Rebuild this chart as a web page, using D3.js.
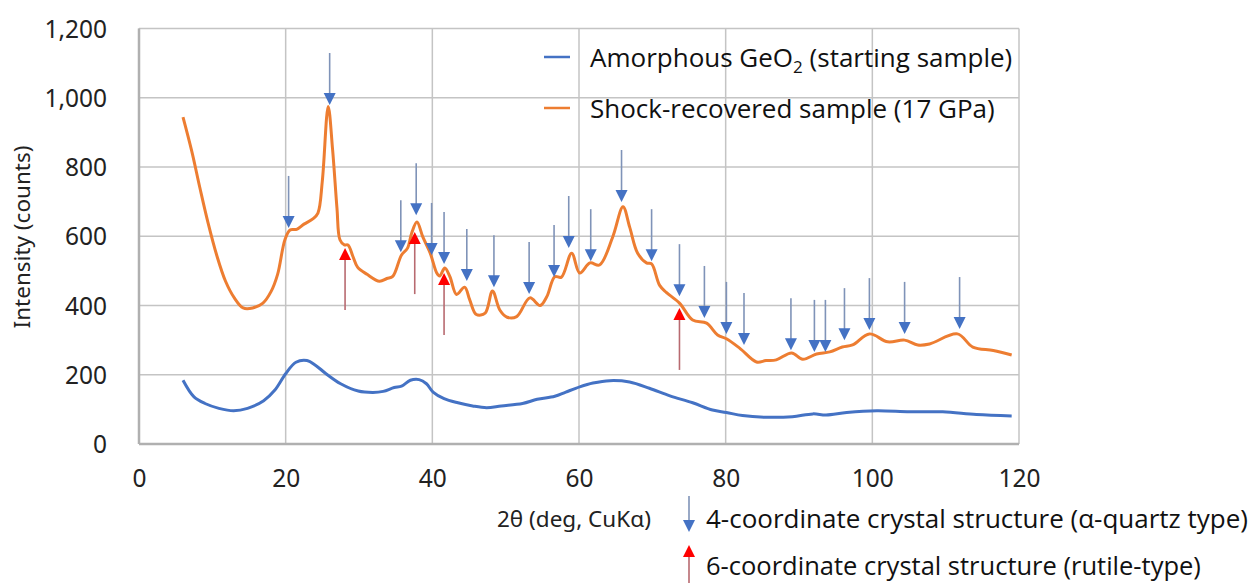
<!DOCTYPE html>
<html><head><meta charset="utf-8">
<script src="https://cdn.jsdelivr.net/npm/d3@7"></script>
<style>
html,body{margin:0;padding:0;background:#fff;}
svg{display:block;}
</style></head>
<body>
<svg id="chart" width="1258" height="583"></svg>
<script>
// ---------- DATA ----------
const xTicks = [0, 20, 40, 60, 80, 100, 120];
const yTicks = [0, 200, 400, 600, 800, 1000, 1200];

const amorphousX = [6.0,7.5,9.0,10.9,12.9,14.8,17.0,18.5,20.0,21.4,22.9,24.1,25.5,27.5,29.9,31.9,33.3,34.8,35.8,37.0,38.2,39.2,40.1,41.6,43.5,45.5,47.4,49.4,52.3,54.3,56.7,58.2,60.1,61.9,64.2,66.9,69.6,72.4,75.5,78.2,80.1,82.3,86.0,89.1,91.9,93.7,96.5,100.6,105.1,109.6,114.2,119.0];
const amorphousY = [184,136,117,103,96,103,125,155,203,236,241,227,203,174,153,149,152,163,167,184,186,174,150,131,119,110,105,110,117,129,138,150,165,176,183,179,161,139,119,98,91,82,77,79,87,84,91,96,93,93,85,81];

const shockX = [6.0,7.2,8.3,9.4,10.6,11.8,13.0,14.2,15.5,16.9,18.0,18.9,19.9,20.6,21.5,22.5,23.7,24.4,25.0,25.8,26.4,27.0,27.4,28.0,28.5,29.2,29.8,31.1,32.8,33.8,34.6,35.8,36.6,37.2,37.9,38.7,39.7,40.6,41.0,41.7,42.4,43.3,44.4,45.1,46.0,47.2,48.2,49.2,50.2,51.5,53.3,54.7,55.6,56.7,57.6,59.0,60.1,61.5,62.8,64.6,66.0,66.9,68.0,69.2,69.9,71.0,71.9,73.7,75.5,77.4,78.9,80.1,81.9,84.2,85.5,86.9,89.0,90.5,92.4,94.2,95.9,97.3,99.6,102.1,104.4,106.2,107.8,111.6,113.7,116.5,119.0];
const shockY = [944,845,740,640,545,470,422,393,393,407,440,490,590,618,620,635,650,667,760,975,850,680,590,575,575,540,511,490,470,478,484,546,565,610,641,598,552,494,485,508,483,432,453,416,374,378,442,387,366,368,422,400,425,483,482,551,494,523,517,598,685,627,551,523,520,458,438,407,358,349,315,304,277,237,241,243,263,245,260,266,280,286,318,295,300,286,289,318,280,270,257];

// 4-coordinate (alpha-quartz type) peak markers: position and arrow-tip intensity
const quartzX = [20.4,26.0,35.7,37.8,39.9,41.6,44.7,48.4,53.2,56.6,58.6,61.6,65.8,69.9,73.7,77.1,80.1,82.5,88.9,92.1,93.6,96.2,99.6,104.4,111.9];
const quartzTip = [624,979,554,661,546,520,471,453,433,482,566,528,699,528,427,364,318,286,271,266,266,300,329,318,332];
// 6-coordinate (rutile type) peak markers: position and arrow-head intensity
const rutileX = [28.1,37.6,41.6,73.7];
const rutileTip = [566,612,494,393];

const seriesNames = ["Amorphous GeO", "Shock-recovered sample (17 GPa)"];
const xTitle = "2θ (deg, CuKα)";
const yTitle = "Intensity (counts)";
const markerNames = ["4-coordinate crystal structure (α-quartz type)", "6-coordinate crystal structure (rutile-type)"];

// ---------- DRAW ----------
const svg = d3.select("#chart");
const M = {left:139, right:1019, top:28.5, bottom:444};
const x = d3.scaleLinear().domain([0,120]).range([M.left, M.right]);
const y = d3.scaleLinear().domain([0,1200]).range([M.bottom, M.top]);

const BLUE = "#4472C4", ORANGE = "#ED7D31", GRID = "#c4c4c4";
const tickFont = "'Noto Sans', sans-serif";
const textFont = "'Open Sans', 'Noto Sans', sans-serif";

// gridlines
const g = svg.append("g");
g.selectAll(".hg").data(yTicks).join("line")
  .attr("x1", M.left).attr("x2", M.right)
  .attr("y1", d=>y(d)).attr("y2", d=>y(d))
  .attr("stroke", GRID).attr("stroke-width", 1.5);
g.selectAll(".vg").data(xTicks).join("line")
  .attr("y1", M.top).attr("y2", M.bottom)
  .attr("x1", d=>x(d)).attr("x2", d=>x(d))
  .attr("stroke", GRID).attr("stroke-width", 1.5);
// axis lines
g.append("line").attr("x1",M.left).attr("x2",M.right).attr("y1",M.bottom).attr("y2",M.bottom).attr("stroke","#b0b0b0").attr("stroke-width",2.5);
g.append("line").attr("x1",M.left).attr("x2",M.left).attr("y1",M.top).attr("y2",M.bottom).attr("stroke","#b0b0b0").attr("stroke-width",2.5);

// axes labels via d3 axes
const fmt = d3.format(",");
const yAxis = svg.append("g").attr("transform",`translate(${M.left-32},0)`)
  .call(d3.axisLeft(y).tickValues(yTicks).tickFormat(fmt).tickSize(0).tickPadding(0));
yAxis.select(".domain").remove();
yAxis.selectAll("text").attr("font-family",tickFont).attr("font-size",24.5).attr("fill","#222").attr("dy","0.35em");

const xAxis = svg.append("g").attr("transform",`translate(0,${M.bottom})`)
  .call(d3.axisBottom(x).tickValues(xTicks).tickFormat(d3.format("d")).tickSize(0).tickPadding(0));
xAxis.select(".domain").remove();
xAxis.selectAll("text").attr("font-family",tickFont).attr("font-size",24.5).attr("fill","#222").attr("y",43).attr("dy",0);

// lines
const line = d3.line().x(d=>x(d[0])).y(d=>y(d[1])).curve(d3.curveCatmullRom.alpha(0.5));
const amorph = amorphousX.map((v,i)=>[v, amorphousY[i]]);
const shock = shockX.map((v,i)=>[v, shockY[i]]);
svg.append("path").attr("d", line(amorph)).attr("fill","none").attr("stroke",BLUE).attr("stroke-width",3).attr("stroke-linejoin","round");
svg.append("path").attr("d", line(shock)).attr("fill","none").attr("stroke",ORANGE).attr("stroke-width",3).attr("stroke-linejoin","round");

// arrows
function downArrow(sel, px, tipY, len){
  sel.append("line").attr("x1",px).attr("x2",px).attr("y1",tipY-len).attr("y2",tipY-10)
    .attr("stroke","#7f93b8").attr("stroke-width",1.6);
  sel.append("path").attr("d",`M${px-6},${tipY-12}L${px+6},${tipY-12}L${px},${tipY}Z`).attr("fill",BLUE);
}
function upArrow(sel, px, topY, len){
  sel.append("line").attr("x1",px).attr("x2",px).attr("y1",topY+10).attr("y2",topY+len)
    .attr("stroke","#b86a70").attr("stroke-width",1.6);
  sel.append("path").attr("d",`M${px-6},${topY+12}L${px+6},${topY+12}L${px},${topY}Z`).attr("fill","#ff0000");
}
const arrows = svg.append("g");
quartzX.forEach((v,i)=>downArrow(arrows, x(v), y(quartzTip[i]), 52));
rutileX.forEach((v,i)=>upArrow(arrows, x(v), y(rutileTip[i]), 62));

// axis titles
svg.append("text").attr("transform","translate(30,237) rotate(-90)").attr("text-anchor","middle")
  .attr("font-family",tickFont).attr("font-size",22.5).attr("fill","#222").text(yTitle);
svg.append("text").attr("x",497).attr("y",527).attr("font-family",tickFont).attr("font-size",22.5).attr("fill","#222").text(xTitle);

// legend
const leg = svg.append("g");
leg.append("line").attr("x1",544).attr("x2",570).attr("y1",57).attr("y2",57).attr("stroke",BLUE).attr("stroke-width",2.5);
leg.append("line").attr("x1",544).attr("x2",570).attr("y1",108).attr("y2",108).attr("stroke",ORANGE).attr("stroke-width",2.5);
const t1 = leg.append("text").attr("x",590).attr("y",67).attr("font-family",textFont).attr("font-size",26).attr("fill","#111");
t1.append("tspan").text(seriesNames[0]);
t1.append("tspan").attr("font-size",17).attr("dy",6).text("2");
t1.append("tspan").attr("dy",-6).text(" (starting sample)");
leg.append("text").attr("x",590).attr("y",118).attr("font-family",textFont).attr("font-size",26).attr("fill","#111").text(seriesNames[1]);

// marker legend
downArrow(leg, 689, 532, 36);
upArrow(leg, 689, 545, 38);
leg.append("text").attr("x",706).attr("y",528).attr("font-family",textFont).attr("font-size",26).attr("fill","#111").text(markerNames[0]);
leg.append("text").attr("x",706).attr("y",575).attr("font-family",textFont).attr("font-size",25.5).attr("fill","#111").text(markerNames[1]);
</script>
</body></html>
